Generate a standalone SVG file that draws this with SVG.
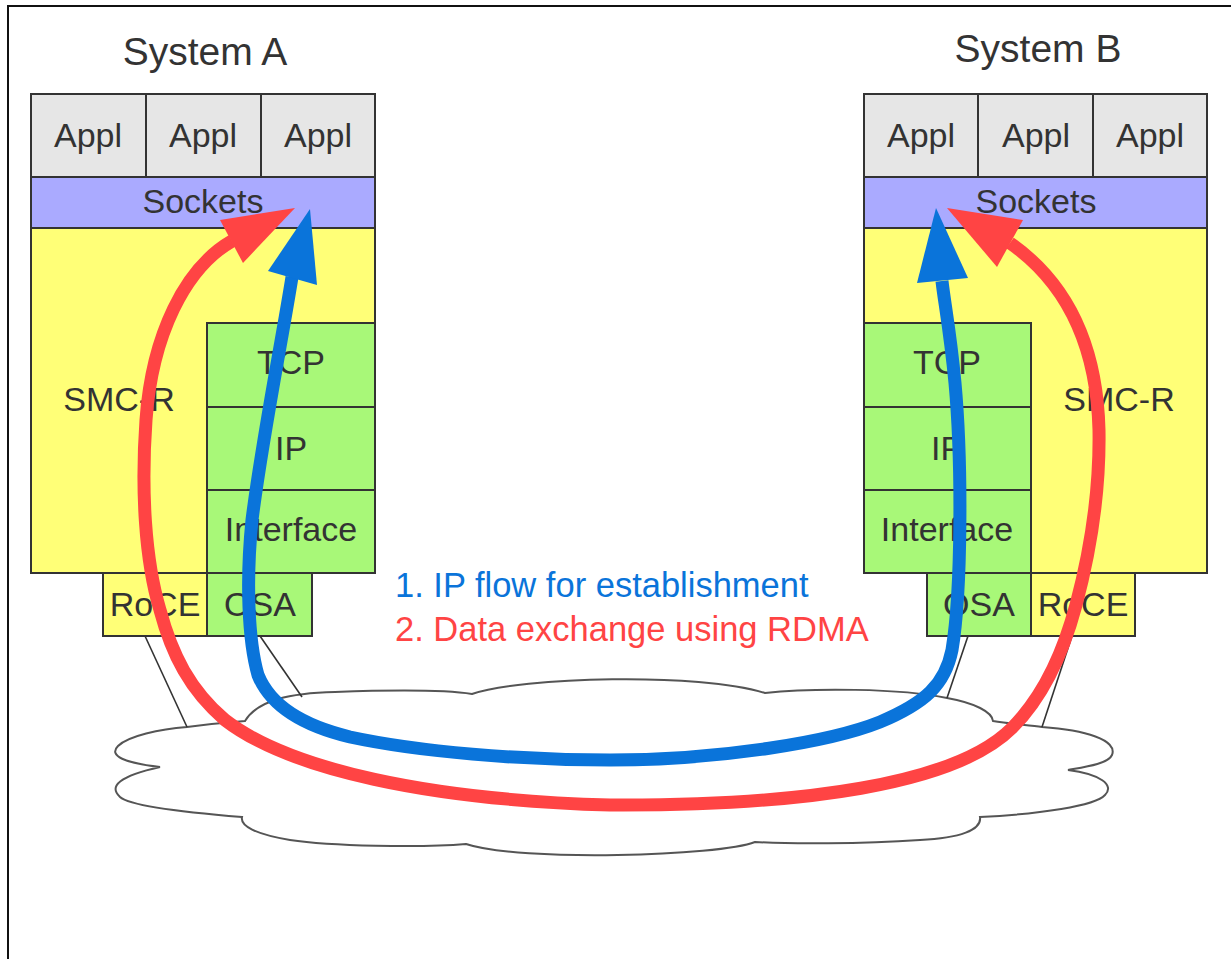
<svg xmlns="http://www.w3.org/2000/svg" width="1231" height="959" viewBox="0 0 1231 959">
  <style>
    .box { stroke: #333333; stroke-width: 2; }
    .appl { fill: #e6e6e6; }
    .sock { fill: #aaaaff; }
    .smc { fill: #ffff77; }
    .tcpip { fill: #a8f878; }
    .lbl { font-family: "Liberation Sans", Arial, sans-serif; font-size: 34px; fill: #333333; text-anchor: middle; }
    .title { font-family: "Liberation Sans", Arial, sans-serif; font-size: 39px; fill: #333333; text-anchor: middle; }
    .legend { font-family: "Liberation Sans", Arial, sans-serif; font-size: 34.5px; }
    .link { stroke: #333333; stroke-width: 1.6; fill: none; }
    .cloud { fill: #ffffff; stroke: #555555; stroke-width: 2; }
    .ip { fill: none; stroke: #0a74da; stroke-width: 13; stroke-linecap: butt; }
    .ipHead { fill: #0a74da; }
    .rdma { fill: none; stroke: #ff4444; stroke-width: 13; stroke-linecap: butt; }
    .rdmaHead { fill: #ff4444; }
  </style>

  <rect width="1231" height="959" fill="#ffffff"/>
  <!-- frame -->
  <path d="M8,959 V6 H1231" fill="none" stroke="#111111" stroke-width="2"/>

  <!-- network cloud -->
  <g id="network">
    <path class="cloud" d="M245,721 C258,700 290,693 335,692 C390,690 440,689 472,694 C520,677 700,672 765,693 C810,688 900,688 947,698 C975,703 992,712 993,721 C1010,724 1030,725 1042,727 C1085,730 1118,740 1112,755 C1108,764 1085,767 1068,770 C1100,774 1115,785 1105,795 C1095,806 1040,814 980,817 C982,830 960,838 920,840 C860,844 790,844 755,842 C720,856 520,862 466,844 C420,848 330,846 290,840 C255,834 240,826 242,817 C180,812 130,806 120,797 C108,786 120,776 160,767 C125,763 108,756 118,746 C128,736 160,729 187,727 C210,724 232,722 245,721 Z"/>
  </g>

  <!-- System A -->
  <g id="system-a">
    <text class="title" x="205" y="65">System A</text>
    <rect class="box appl" x="31" y="94" width="115" height="83"/>
    <rect class="box appl" x="146" y="94" width="115" height="83"/>
    <rect class="box appl" x="261" y="94" width="114" height="83"/>
    <text class="lbl" x="88" y="147">Appl</text>
    <text class="lbl" x="203" y="147">Appl</text>
    <text class="lbl" x="318" y="147">Appl</text>
    <rect class="box sock" x="31" y="177" width="344" height="51"/>
    <text class="lbl" x="203" y="213">Sockets</text>
    <rect class="box smc" x="31" y="228" width="344" height="345"/>
    <text class="lbl" x="119" y="411">SMC-R</text>
    <rect class="box tcpip" x="207" y="323" width="168" height="84"/>
    <rect class="box tcpip" x="207" y="407" width="168" height="83"/>
    <rect class="box tcpip" x="207" y="490" width="168" height="83"/>
    <text class="lbl" x="291" y="374">TCP</text>
    <text class="lbl" x="291" y="460">IP</text>
    <text class="lbl" x="291" y="541">Interface</text>
    <rect class="box smc" x="103" y="573" width="104" height="63"/>
    <rect class="box tcpip" x="207" y="573" width="105" height="63"/>
    <text class="lbl" x="155" y="616">RoCE</text>
    <text class="lbl" x="260" y="616">OSA</text>
  </g>

  <!-- System B -->
  <g id="system-b">
    <text class="title" x="1038" y="62">System B</text>
    <rect class="box appl" x="864" y="94" width="114" height="83"/>
    <rect class="box appl" x="978" y="94" width="115" height="83"/>
    <rect class="box appl" x="1093" y="94" width="114" height="83"/>
    <text class="lbl" x="921" y="147">Appl</text>
    <text class="lbl" x="1036" y="147">Appl</text>
    <text class="lbl" x="1150" y="147">Appl</text>
    <rect class="box sock" x="864" y="177" width="343" height="51"/>
    <text class="lbl" x="1036" y="213">Sockets</text>
    <rect class="box smc" x="864" y="228" width="343" height="345"/>
    <text class="lbl" x="1119" y="411">SMC-R</text>
    <rect class="box tcpip" x="864" y="323" width="167" height="84"/>
    <rect class="box tcpip" x="864" y="407" width="167" height="83"/>
    <rect class="box tcpip" x="864" y="490" width="167" height="83"/>
    <text class="lbl" x="947" y="374">TCP</text>
    <text class="lbl" x="947" y="460">IP</text>
    <text class="lbl" x="947" y="541">Interface</text>
    <rect class="box tcpip" x="927" y="573" width="104" height="63"/>
    <rect class="box smc" x="1031" y="573" width="104" height="63"/>
    <text class="lbl" x="979" y="616">OSA</text>
    <text class="lbl" x="1083" y="616">RoCE</text>
  </g>

  <!-- adapter links into the network -->
  <g id="links">
    <line class="link" x1="145" y1="636" x2="187" y2="727"/>
    <line class="link" x1="260" y1="636" x2="302" y2="697"/>
    <line class="link" x1="968" y1="636" x2="947" y2="698"/>
    <line class="link" x1="1072" y1="636" x2="1042" y2="727"/>
  </g>

  <!-- flows -->
  <g id="connectors">
    <path class="rdma" d="M232,241 C185,268 152,335 146,420 C141,490 145,560 160,610 C172,655 190,690 225,720 C290,770 430,800 610,805 C800,806 955,785 1012,728 C1045,695 1064,650 1076,605 C1092,545 1100,490 1099,430 C1097,350 1070,285 1010,243"/>
    <polygon class="rdmaHead" points="295,208 220,220 243,263"/>
    <polygon class="rdmaHead" points="947,208 1023,220 997,267"/>
    <path class="ip" d="M292,277 C282,340 262,440 252,520 C246,580 248,640 258,675 C270,705 300,725 350,737 C420,752 520,760 610,760 C720,760 830,742 880,722 C925,703 945,685 952,650 C962,590 962,460 955,383 C950,330 944,300 942,281"/>
    <polygon class="ipHead" points="310,209 268,271 317,285"/>
    <polygon class="ipHead" points="936,208 917,283 968,278"/>
  </g>

  <!-- legend -->
  <g id="legend">
    <text class="legend" x="395" y="597" fill="#0a74da">1. IP flow for establishment</text>
    <text class="legend" x="395" y="641" fill="#ff4444">2. Data exchange using RDMA</text>
  </g>
</svg>
